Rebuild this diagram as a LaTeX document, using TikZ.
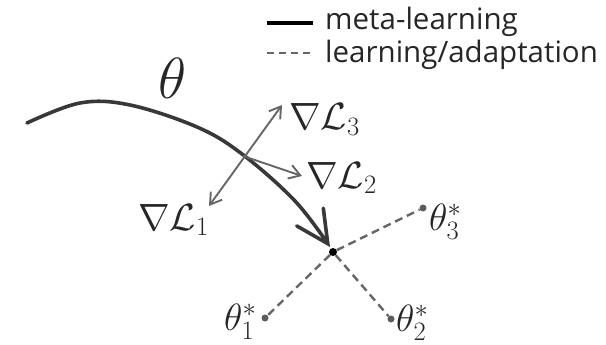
\RequirePackage{fix-cm}
\documentclass[tikz,border=0pt]{standalone}
\usepackage[no-math]{fontspec}
\setmainfont{Open Sans}
\usetikzlibrary{arrows.meta}
\definecolor{maincol}{HTML}{383838}
\definecolor{gcol}{HTML}{666666}
\definecolor{dotcol}{HTML}{5C5C5C}
\tikzset{
  mainline/.style={draw=maincol, line width=3.6pt, line cap=round},
  gradarrow/.style={draw=gcol, line width=1.9pt, arrows={Straight Barb[length=11pt,width=14pt]-Straight Barb[length=11pt,width=14pt]}},
  adapt/.style={draw=gcol, line width=2.4pt, dash pattern=on 8pt off 5pt},
  legtext/.style={anchor=base west, inner sep=0pt, font=\fontsize{29.5}{31}\selectfont, text=black!85},
  mathlab/.style={anchor=base west, inner sep=0pt, font=\fontsize{38}{40}\selectfont, text=black!85},
  pdot/.style={circle, fill=dotcol, inner sep=0pt, minimum size=7pt},
}
\begin{document}
\begin{tikzpicture}[x=1pt,y=-1pt]
\useasboundingbox (0,0) rectangle (606,345);
% legend
\coordinate (ls1) at (267,23);
\coordinate (le1) at (313,23);
\coordinate (ls2) at (267,53);
\coordinate (le2) at (313,53);
\draw[draw=black, line width=3.6pt] (ls1) -- (le1);
\draw[draw=gcol, line width=1.5pt, dash pattern=on 7pt off 5pt] (ls2) -- (le2);
\node[legtext] (lt1) at (325,30) {meta-learning};
\node[legtext] (lt2) at (325,63) {learning/adaptation};
% theta
\node[inner sep=0pt, font=\fontsize{58}{60}\selectfont, text=black!85] (theta) at (173,78) {$\theta$};
% central point and optima
\node[circle, fill=black, inner sep=0pt, minimum size=8pt] (o) at (333,252) {};
\node[pdot] (t1) at (265,318) {};
\node[pdot] (t2) at (391,319) {};
\node[pdot] (t3) at (423,208) {};
\draw[adapt] (o) -- (t1);
\draw[adapt] (o) -- (t2);
\draw[adapt] (o) -- (t3);
\node[mathlab] (th1) at (224,330) {$\theta_1^*$};
\node[mathlab] (th2) at (396,331) {$\theta_2^*$};
\node[mathlab] (th3) at (429,230) {$\theta_3^*$};
% main meta-learning curve
\coordinate (c0) at (27,123);
\coordinate (c1) at (80,103);
\coordinate (c2) at (130,105);
\coordinate (c3) at (197,127);
\coordinate (c4) at (242,154);
\coordinate (c5) at (295,201);
\coordinate (c6) at (330,247);
\draw[mainline, -{Straight Barb[length=32pt,width=32pt,line cap=round]}] plot[smooth, tension=0.6] coordinates {(c0) (c1) (c2) (c3) (c4) (c5) (c6)};
% gradients
\coordinate (g1) at (209,206);
\coordinate (g3) at (282,105);
\coordinate (g2s) at (243,156);
\coordinate (g2) at (302,176);
\draw[gradarrow] (g1) -- (g3);
\draw[draw=gcol, line width=1.9pt, -{Straight Barb[length=11pt,width=14pt]}] (g2s) -- (g2);
\node[mathlab] (L3) at (289,130) {$\nabla\mathcal{L}_3$};
\node[mathlab] (L2) at (306,188) {$\nabla\mathcal{L}_2$};
\node[mathlab] (L1) at (138,230) {$\nabla\mathcal{L}_1$};
\end{tikzpicture}
\end{document}
